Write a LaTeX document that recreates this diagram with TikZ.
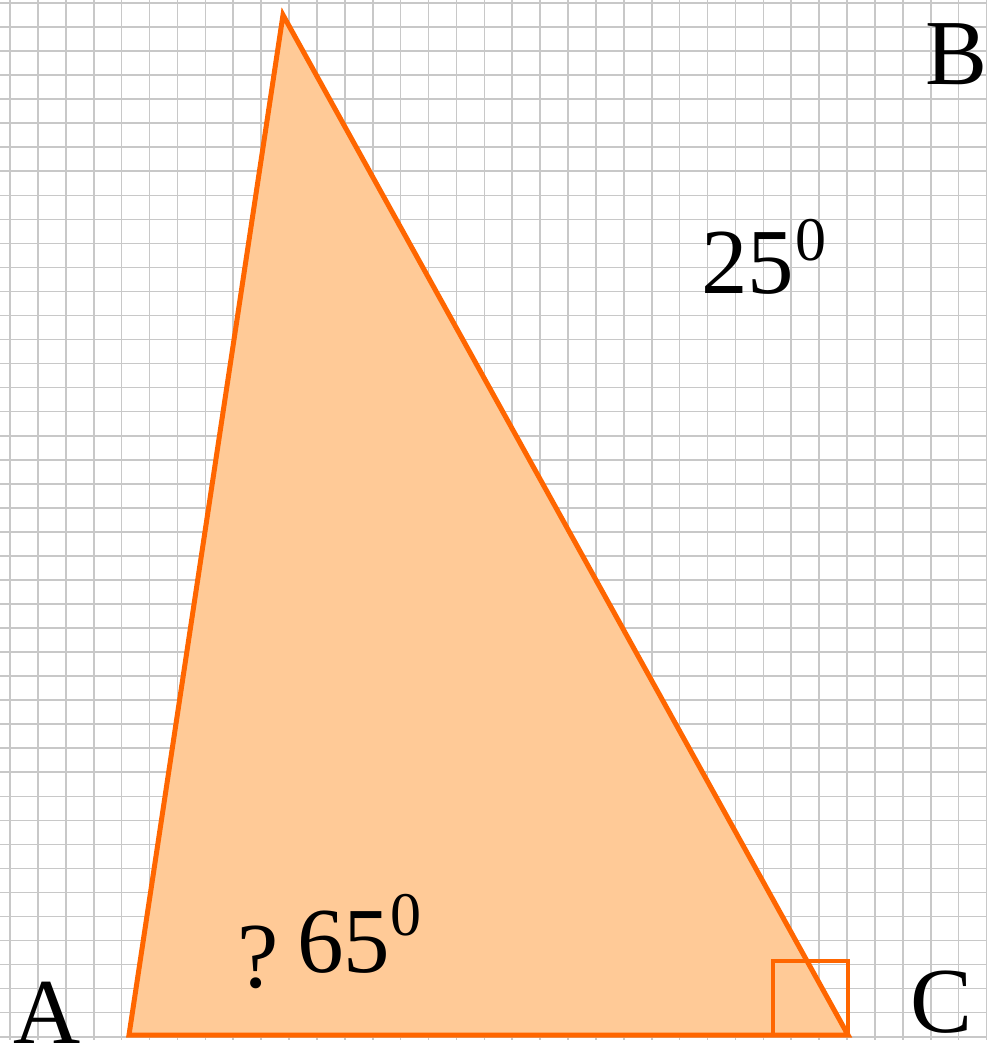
\documentclass[tikz,border=0pt]{standalone}
\usepackage{fontspec}
\setmainfont{Liberation Serif}
\definecolor{gridc}{HTML}{C8C8C8}
\definecolor{orng}{HTML}{FF6600}
\definecolor{peach}{HTML}{FFCA97}
\begin{document}
\begin{tikzpicture}[x=1pt,y=-1pt,
  gridline/.style={draw=gridc,line width=1.6pt},
  edge/.style={draw=orng,line width=5pt,line join=miter},
  big/.style={inner sep=0pt,font=\fontsize{93}{93}\selectfont},
  sup/.style={inner sep=0pt,font=\fontsize{62}{62}\selectfont}]
\useasboundingbox (0,0) rectangle (987,1051);
\fill[white] (0,0) rectangle (987,1051);
\foreach \k in {0,...,35} {\draw[gridline] ({10+27.9*\k},0) -- ({10+27.9*\k},1040);}
\foreach \k in {0,...,43} {\draw[gridline] (0,{3+24.04*\k}) -- (987,{3+24.04*\k});}
\coordinate (A) at (129,1035);
\coordinate (B) at (283,15);
\coordinate (C) at (848,1035);
\fill[peach] (A) -- (B) -- (C) -- cycle;
\draw[edge] (A) -- (B) -- (C) -- cycle;
\draw[draw=orng,line width=4.5pt] (773,1035) rectangle (848,961);
\node[big,anchor=base west] (lB) at (925,85) {B};
\node[big,anchor=base west] (lA) at (13,1043) {A};
\node[big,anchor=base west] (lC) at (910,1032) {C};
\node[big,anchor=base west] (n25) at (701,293) {25};
\node[sup,anchor=base west] (s25) at (795,260) {0};
\node[big,anchor=base west] (q) at (237,987) {?};
\node[big,anchor=base west] (n65) at (297,972) {65};
\node[sup,anchor=base west] (s65) at (390,935) {0};
\end{tikzpicture}
\end{document}
